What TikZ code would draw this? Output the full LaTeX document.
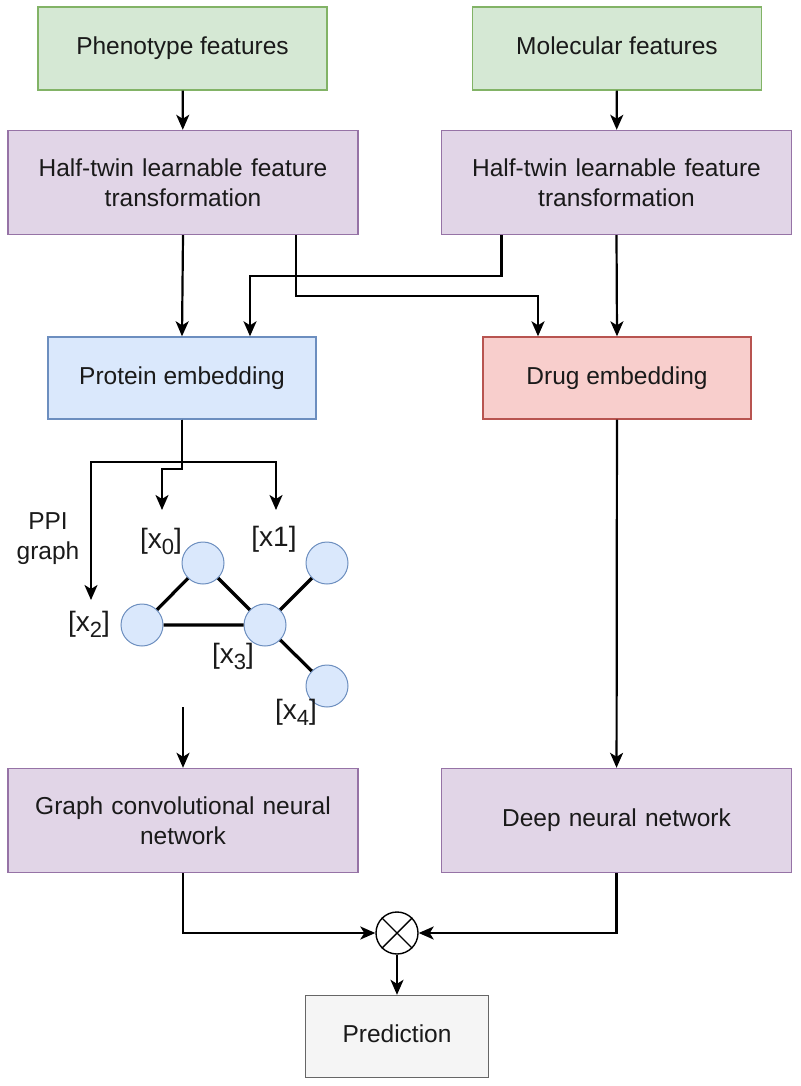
\documentclass[tikz,border=0pt]{standalone}
\usepackage{fontspec}
\setmainfont{Liberation Sans}
\usepackage{tikz}
\usetikzlibrary{arrows.meta}

\definecolor{featfill}{HTML}{D5E8D4}
\definecolor{featline}{HTML}{82B366}
\definecolor{netfill}{HTML}{E1D5E7}
\definecolor{netline}{HTML}{9673A6}
\definecolor{protfill}{HTML}{DAE8FC}
\definecolor{protline}{HTML}{6C8EBF}
\definecolor{drugfill}{HTML}{F8CECC}
\definecolor{drugline}{HTML}{B85450}
\definecolor{predfill}{HTML}{F5F5F5}
\definecolor{predline}{HTML}{666666}
\definecolor{ink}{HTML}{1A1A1A}
\newcommand{\lowidx}[1]{\raisebox{-0.4ex}{\fontsize{22}{22}\selectfont #1}}

\begin{document}
\begin{tikzpicture}[x=1pt,y=-1pt,
  font=\fontsize{24.5}{30}\selectfont, text=ink,
  box/.style={draw, line width=1.4pt, align=center, inner sep=0pt},
  oneline/.style={text height=17.5pt, text depth=5pt},
  featbox/.style={box, oneline, fill=featfill, draw=featline, minimum width=289, minimum height=83},
  netbox/.style={box, fill=netfill, draw=netline, minimum width=350, minimum height=104, text width=335},
  embbox/.style={box, oneline, minimum width=268, minimum height=82},
  node/.style={circle, draw=protline, fill=protfill, line width=1pt, minimum size=42, inner sep=0pt},
  idx/.style={font=\fontsize{28}{30}\selectfont, inner sep=0pt},
  arr/.style={-{Stealth[length=15pt,width=13pt,inset=4pt]}, line width=2.2pt},
  edge/.style={line width=3.2pt}]
\useasboundingbox (0,0) rectangle (800,1086);

\node[featbox] (pheno) at (182.5,48.5) {Phenotype features};
\node[featbox] (mol) at (617,48.5) {Molecular features};
\node[netbox] (htl) at (183,182.5) {Half-twin learnable feature\\transformation};
\node[netbox] (htr) at (616.5,182.5) {Half-twin learnable feature\\transformation};
\node[embbox, fill=protfill, draw=protline] (prot) at (182,378) {Protein embedding};
\node[embbox, fill=drugfill, draw=drugline] (drug) at (617,378) {Drug embedding};
\node[netbox] (gcn) at (183,820.5) {Graph convolutional neural\\network};
\node[netbox, oneline] (dnn) at (616.5,820.5) {Deep neural network};
\node[circle, draw, line width=1.4pt, minimum size=42, inner sep=0pt, fill=white] (mult) at (397,933) {};
\draw[line width=1.4pt] (mult.north west) -- (mult.south east) (mult.north east) -- (mult.south west);
\node[box, oneline, fill=predfill, draw=predline, minimum width=183, minimum height=82] (pred) at (397,1036.5) {Prediction};

% PPI graph
\node[node] (g0) at (203,563) {};
\node[node] (g1) at (327,563) {};
\node[node] (g2) at (142,625) {};
\node[node] (g3) at (265,625) {};
\node[node] (g4) at (327,686) {};
\draw[edge] (g2) -- (g0) -- (g3) -- (g2) (g3) -- (g1) (g3) -- (g4);
\node[align=center] (ppi) at (48,539) {PPI\\graph};
\node[idx] (l0) at (161,541) {[x\lowidx{0}]};
\node[idx] (l1) at (274,539) {[x1]};
\node[idx] (l2) at (89,624) {[x\lowidx{2}]};
\node[idx] (l3) at (233,656) {[x\lowidx{3}]};
\node[idx] (l4) at (296,712) {[x\lowidx{4}]};

\coordinate (t0) at (162,510);
\coordinate (t1) at (276,510);
\coordinate (t2) at (91,600);
\coordinate (gtop) at (183,707);

\draw[arr] (pheno) -- (htl);
\draw[arr] (mol) -- (htr);
\draw[arr] (htl.south) -- (prot.north);
\draw[arr] (htr.south) -- (drug.north);
\draw[arr] ([xshift=-115]htr.south) -- ++(0,41) -| ([xshift=68]prot.north);
\draw[arr] ([xshift=113]htl.south) -- ++(0,61) -| ([xshift=-79]drug.north);
\draw[arr] (prot.south) -- ++(0,49) -| (t0);
\draw[arr] (prot.south) -- ++(0,42) -| (t1);
\draw[arr] (prot.south) -- ++(0,42) -| (t2);
\draw[arr] (gtop) -- (gcn.north);
\draw[arr] (drug) -- (dnn);
\draw[arr] (gcn.south) |- (mult.west);
\draw[arr] (dnn.south) |- (mult.east);
\draw[arr] (mult) -- (pred);
\end{tikzpicture}
\end{document}
